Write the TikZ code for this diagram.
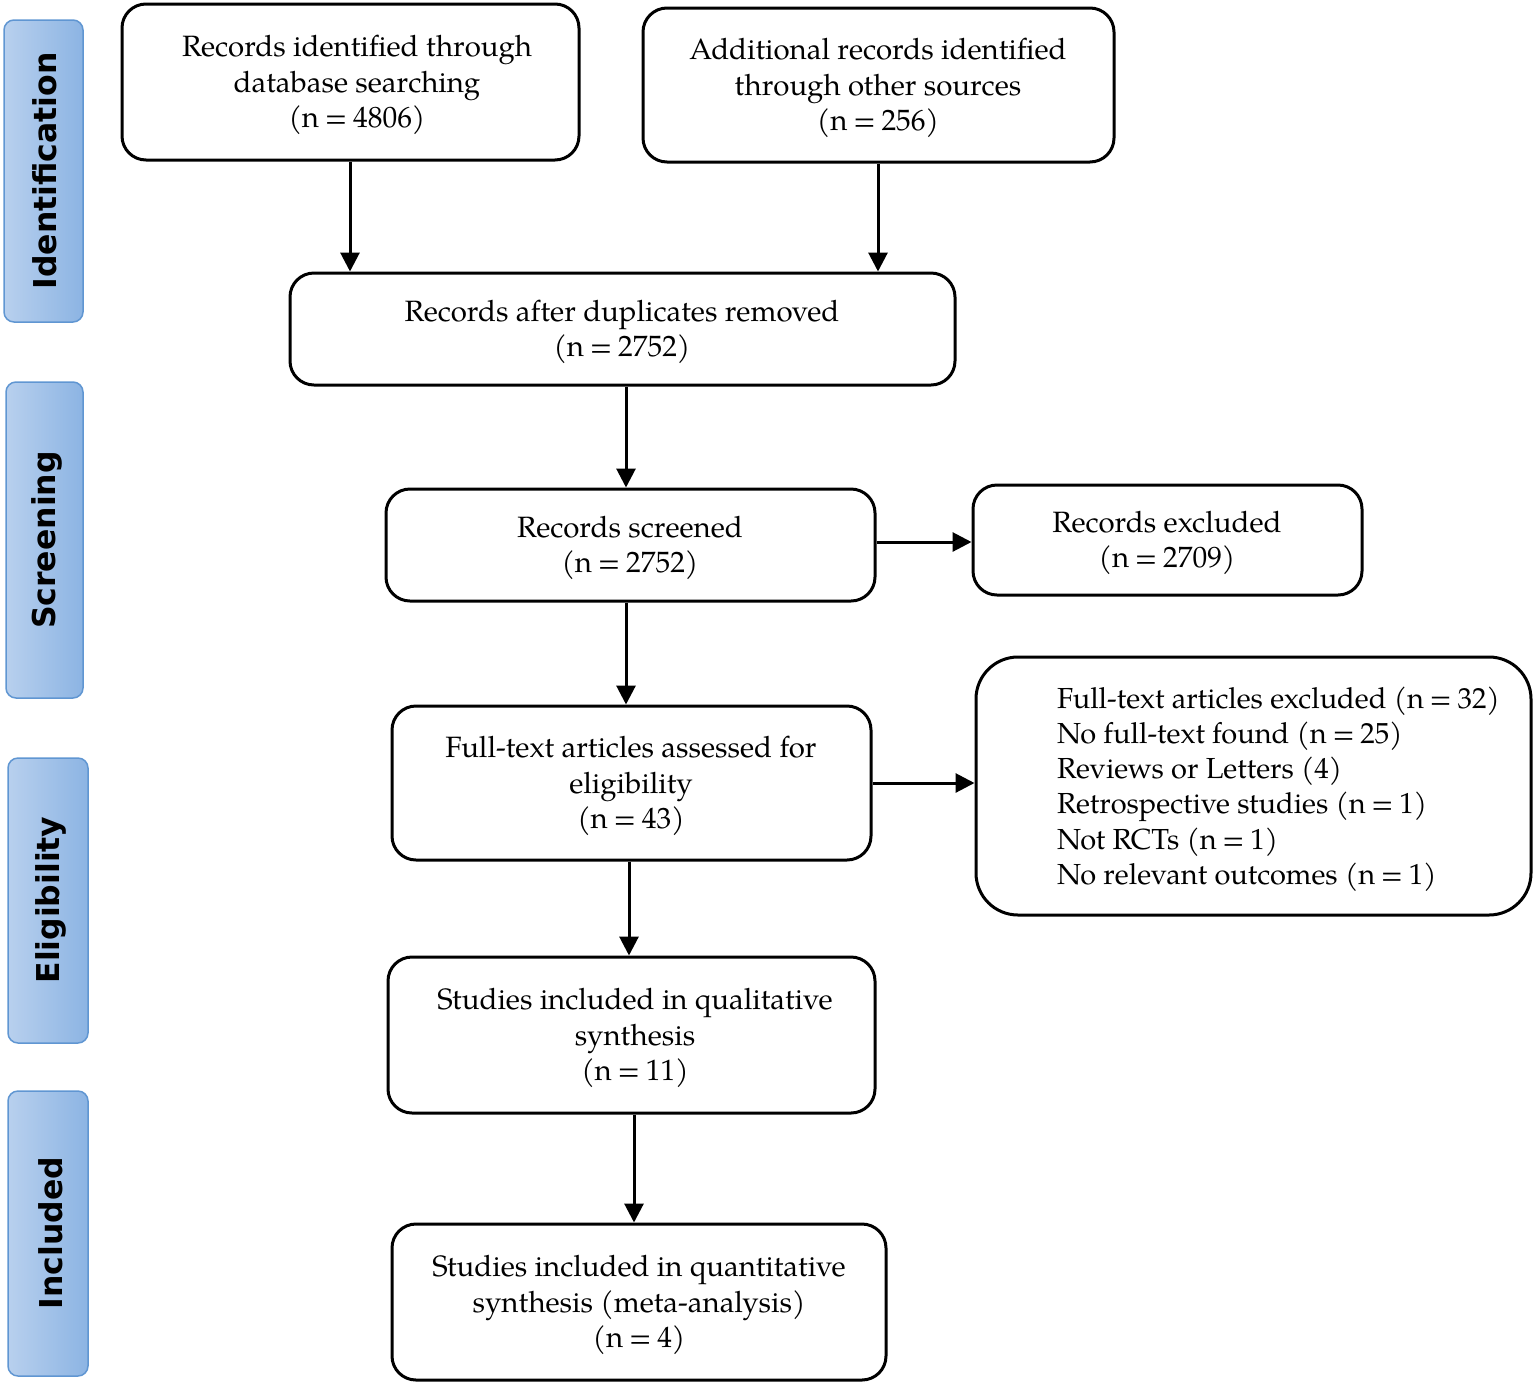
\documentclass[tikz,border=0pt]{standalone}
\usepackage{fontspec}
\setmainfont{TeX Gyre Pagella}
\newfontfamily\sidefont{DejaVu Sans}
\usetikzlibrary{arrows.meta}
\definecolor{sbL}{RGB}{184,208,238}
\definecolor{sbR}{RGB}{140,180,227}
\definecolor{sbB}{RGB}{96,150,210}
\newcommand{\eqsign}{\hspace{0.2em}=\hspace{0.2em}}
\begin{document}
\begin{tikzpicture}[x=1pt,y=-1pt,
  box/.style={draw=black, line width=3pt, rounded corners=24pt, inner sep=0pt},
  txt/.style={align=center, inner sep=0pt, font=\fontsize{29.4}{35.5}\selectfont},
  sidebar/.style={draw=sbB, line width=1.5pt, rounded corners=10pt, left color=sbL, right color=sbR, shading angle=90},
  sidelabel/.style={rotate=90, font=\sidefont\bfseries\fontsize{31.5}{36}\selectfont, inner sep=0pt},
  arr/.style={line width=3pt, -{Triangle[length=19pt,width=19pt]}}]
\useasboundingbox (0,0) rectangle (1534,1385);

% side bars
\draw[sidebar] (4,20) rectangle (83,322);
\node[sidelabel] (lid) at (45,171) {Identification};
\draw[sidebar] (6,382) rectangle (83,698);
\node[sidelabel] (lsc) at (47,540) {Screening};
\draw[sidebar] (8,758) rectangle (88,1043);
\node[sidelabel] (lel) at (51,900) {Eligibility};
\draw[sidebar] (8,1091) rectangle (88,1376);
\node[sidelabel] (lin) at (51,1233) {Included};

% boxes
\node[box, minimum width=457pt, minimum height=156pt] (b1) at (350.5,82) {};
\node[txt] (t1) at (357,85)
  {Records identified through\\database searching\\(n\eqsign{}4806)};
\node[box, minimum width=471pt, minimum height=154pt] (b2) at (878.5,85) {};
\node[txt] (t2) at (878,88)
  {Additional records identified\\through other sources\\(n\eqsign{}256)};
\node[box, minimum width=665pt, minimum height=112pt] (b3) at (622.5,329) {};
\node[txt] (t3) at (622,332)
  {Records after duplicates removed\\(n\eqsign{}2752)};
\node[box, minimum width=489pt, minimum height=112pt] (b4) at (630.5,545) {};
\node[txt] (t4) at (630,548)
  {Records screened\\(n\eqsign{}2752)};
\node[box, minimum width=389pt, minimum height=110pt] (b5) at (1167.5,540) {};
\node[txt] (t5) at (1167,543)
  {Records excluded\\(n\eqsign{}2709)};
\node[box, minimum width=479pt, minimum height=154pt] (b6) at (631.5,783) {};
\node[txt] (t6) at (631,786)
  {Full-text articles assessed for\\eligibility\\(n\eqsign{}43)};
\node[box, rounded corners=42pt, minimum width=555pt, minimum height=258pt] (b7) at (1253.5,786) {};
\node[txt, anchor=west, align=left, font=\fontsize{29}{35.2}\selectfont] (t7) at (1057,789)
  {Full-text articles excluded (n\eqsign{}32)\\No full-text found (n\eqsign{}25)\\Reviews or Letters (4)\\Retrospective studies (n\eqsign{}1)\\Not RCTs (n\eqsign{}1)\\No relevant outcomes (n\eqsign{}1)};
\node[box, minimum width=487pt, minimum height=156pt] (b8) at (631.5,1035) {};
\node[txt] (t8) at (635,1038)
  {Studies included in qualitative\\synthesis\\(n\eqsign{}11)};
\node[box, minimum width=494pt, minimum height=156pt] (b9) at (639,1302) {};
\node[txt] (t9) at (639,1305)
  {Studies included in quantitative\\synthesis (meta-analysis)\\(n\eqsign{}4)};

% arrows
\draw[arr] (b1.south -| 350,0) -- (b3.north -| 350,0);
\draw[arr] (b2.south -| 878,0) -- (b3.north -| 878,0);
\draw[arr] (b3.south -| 626,0) -- (b4.north -| 626,0);
\draw[arr] (b4.south -| 626,0) -- (b6.north -| 626,0);
\draw[arr] (b4.east |- 0,542) -- (b5.west |- 0,542);
\draw[arr] (b6.east |- 0,783) -- (b7.west |- 0,783);
\draw[arr] (b6.south -| 629,0) -- (b8.north -| 629,0);
\draw[arr] (b8.south -| 634,0) -- (b9.north -| 634,0);
\end{tikzpicture}
\end{document}
